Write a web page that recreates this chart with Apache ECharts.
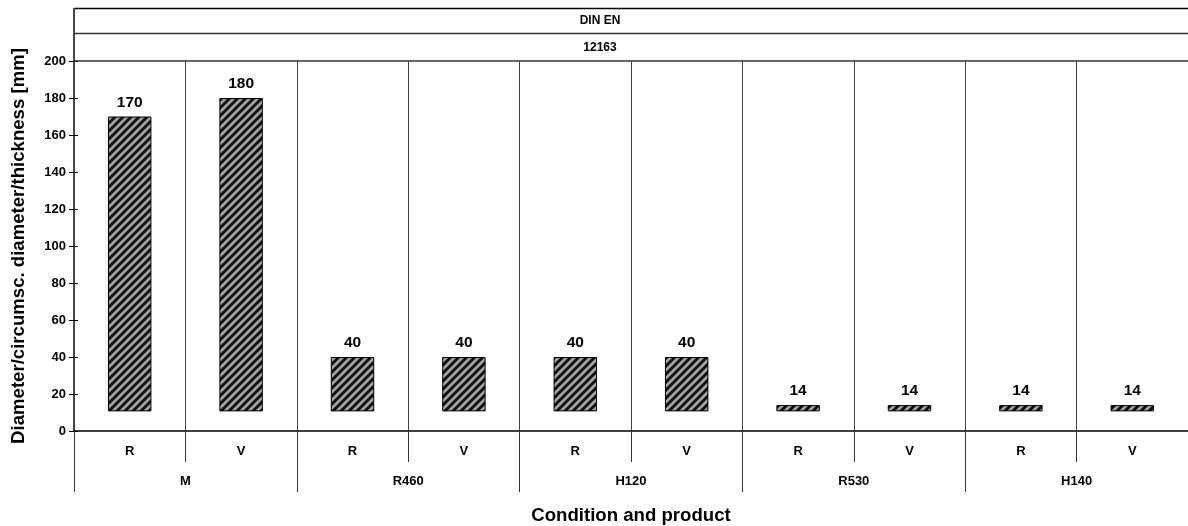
<!DOCTYPE html>
<html>
<head>
<meta charset="utf-8">
<script src="https://cdn.jsdelivr.net/npm/echarts@6/dist/echarts.min.js"></script>
<style>html,body{margin:0;padding:0;background:#fff;overflow:hidden}#c{width:1188px;height:526px}</style>
</head>
<body>
<div id="c"></div>
<script>
// ---- data ----
const products = ['R','V','R','V','R','V','R','V','R','V'];
const conditions = ['M','R460','H120','R530','H140'];
const values = [170,180,40,40,40,40,14,14,14,14];
const barBottom = [10.6,10.6,10.6,10.6,10.6,10.6,10.6,10.6,10.6,10.6];
const headerRows = ['DIN EN','12163'];
const yTitle = 'Diameter/circumsc. diameter/thickness [mm]';
const xTitle = 'Condition and product';

// hatch pattern
const S = 8;
const pc = document.createElement('canvas');
pc.width = S; pc.height = S;
const g = pc.getContext('2d');
g.fillStyle = '#a5a5a5'; g.fillRect(0,0,S,S);
g.strokeStyle = '#111'; g.lineWidth = 3;
g.beginPath();
for (let c = -S; c <= 2*S; c += S) { g.moveTo(c - 2, S + 2); g.lineTo(c + S + 2, -2); }
g.stroke();

const F = 'Liberation Sans, Arial, sans-serif';
const L = 74, T = 61, B = 95, R = 0;
const chart = echarts.init(document.getElementById('c'));
const yBase = {type:'value', min:0, max:200, interval:20, splitLine:{show:false}};
chart.setOption({
  animation: false,
  grid: {left: L, right: R, top: T, bottom: B, containLabel: false, outerBoundsMode: 'none'},
  xAxis: [
    {type:'category', data: products, position:'bottom',
     axisLine:{show:true, lineStyle:{color:'#000', width:1.5}},
     axisTick:{show:true, length:31, lineStyle:{color:'#333'}},
     axisLabel:{color:'#000', fontWeight:'bold', fontSize:13, fontFamily:F, margin:14},
     splitLine:{show:true, lineStyle:{color:'#444', width:1}}},
    {type:'category', data: conditions, position:'bottom',
     axisLine:{show:false},
     axisTick:{show:true, length:61, lineStyle:{color:'#333'}},
     axisLabel:{color:'#000', fontWeight:'bold', fontSize:13, fontFamily:F, margin:44},
     name: xTitle, nameLocation:'middle', nameGap:75,
     nameTextStyle:{color:'#000', fontWeight:'bold', fontSize:18.6, fontFamily:F}}
  ],
  yAxis: [
    Object.assign({}, yBase, {position:'left',
      axisLine:{show:true, lineStyle:{color:'#444', width:2}},
      axisTick:{show:true, length:5, lineStyle:{color:'#000'}},
      axisLabel:{color:'#000', fontWeight:'bold', fontSize:13, fontFamily:F, margin:8},
      name: yTitle, nameLocation:'middle', nameGap:46,
      nameTextStyle:{color:'#000', fontWeight:'bold', fontSize:18.6, fontFamily:F}}),
    Object.assign({}, yBase, {position:'left', offset:0,
      axisLine:{show:false},
      axisTick:{show:true, inside:true, length:4, lineStyle:{color:'#000'}},
      axisLabel:{show:false}})
  ],
  series: [
    {type:'bar', stack:'s', xAxisIndex:0, yAxisIndex:0, data: barBottom, barWidth:'39%',
     itemStyle:{color:'rgba(0,0,0,0)'}, silent:true},
    {type:'bar', stack:'s', xAxisIndex:0, yAxisIndex:0, data: values.map((v,i)=>v-barBottom[i]), barWidth:'39%',
     itemStyle:{color:{image: pc, repeat:'repeat'}, borderColor:'#000', borderWidth:1},
     label:{show:true, position:'top', distance:6, color:'#000', fontWeight:'bold', fontSize:15.5, fontFamily:F,
       formatter: p => String(values[p.dataIndex])}}
  ],
  graphic: [
    {type:'line', shape:{x1:L, y1:8.5, x2:1188, y2:8.5}, style:{stroke:'#000', lineWidth:1.5}},
    {type:'line', shape:{x1:L, y1:33.5, x2:1188, y2:33.5}, style:{stroke:'#333', lineWidth:1.5}},
    {type:'line', shape:{x1:L, y1:61, x2:1188, y2:61}, style:{stroke:'#333', lineWidth:1.5}},
    {type:'line', shape:{x1:L, y1:8, x2:L, y2:61}, style:{stroke:'#444', lineWidth:2}},
    {type:'text', x:600, y:21, style:{text:headerRows[0], fill:'#000', font:'bold 12px '+F, textAlign:'center', textVerticalAlign:'middle'}},
    {type:'text', x:600, y:47.5, style:{text:headerRows[1], fill:'#000', font:'bold 12px '+F, textAlign:'center', textVerticalAlign:'middle'}}
  ]
});
</script>
</body>
</html>
